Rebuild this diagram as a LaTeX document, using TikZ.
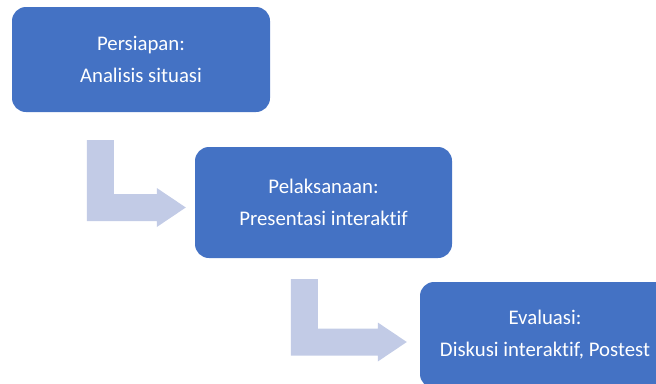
\documentclass[tikz,border=0pt]{standalone}
\usepackage{fontspec}
\setmainfont{Carlito}[Ligatures=NoCommon]
\usepackage{xcolor}
\usetikzlibrary{calc}
\usetikzlibrary{positioning}

\definecolor{stageblue}{HTML}{4472C4}
\definecolor{flowgray}{HTML}{C2CBE6}

% bent arrow from a start point (top left of the stem) to a tip
\newcommand{\bendarrow}[2]{%
  \coordinate (hb) at ($(#2)+(-29,0)$);
  \coordinate (lo) at ($(#2)+(0,13.5)$);
  \fill[flow] (#1) -- ++(27,0) |- ($(hb)+(0,-13.5)$) -- ($(hb)+(0,-19.5)$)
    -- (#2) -- ($(hb)+(0,19.5)$) -- ($(hb)+(0,13.5)$) -- (lo -| #1) -- cycle;
}

\begin{document}
\begin{tikzpicture}
    [x=1pt, y=-1pt,
     stage/.style={fill=stageblue, rounded corners=14pt, text=white,
       align=center, inner sep=0pt, font=\fontsize{20.8}{32}\selectfont},
     flow/.style={fill=flowgray}]
    \useasboundingbox (0,0) rectangle (656,383);
    \clip (0,0) rectangle (656,383);

    \node (persiapan) [stage, minimum width=258pt, minimum height=105pt]
      at (141,59.5) {Persiapan:\\Analisis situasi};
    \node (pelaksanaan) [stage, minimum width=257pt, minimum height=111pt]
      at (323.5,202.5) {Pelaksanaan:\\Presentasi interaktif};
    \node (evaluasi) [stage, minimum width=250pt, minimum height=106pt]
      at (545,335) {Evaluasi:\\Diskusi interaktif, Postest};

    \coordinate (s1) at ($(persiapan.south west)+(75,28)$);
    \coordinate (t1) at ($(pelaksanaan.west)+(-9,5)$);
    \coordinate (s2) at ($(pelaksanaan.south west)+(96,21)$);
    \coordinate (t2) at ($(evaluasi.west)+(-13,7)$);

    \bendarrow{s1}{t1}
    \bendarrow{s2}{t2}
\end{tikzpicture}
\end{document}
